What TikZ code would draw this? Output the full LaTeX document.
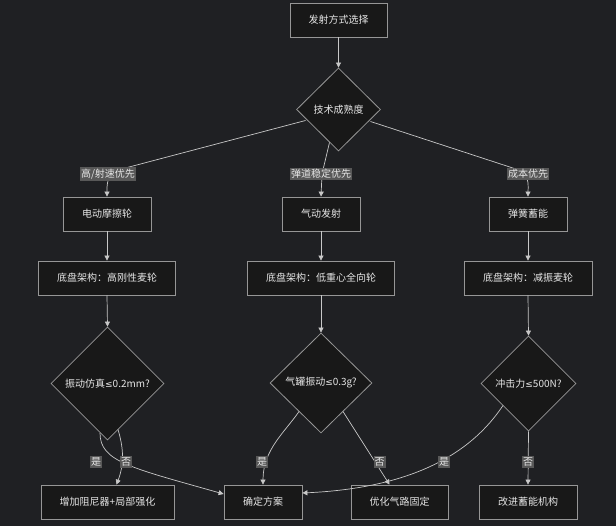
\documentclass[tikz,border=0pt]{standalone}
\usepackage{fontspec}
\setmainfont{Noto Sans CJK SC}
\newfontfamily\symfont{DejaVu Sans}
\usetikzlibrary{shapes.geometric,arrows.meta,calc}
\definecolor{bgc}{RGB}{31,32,35}
\definecolor{boxfill}{RGB}{24,24,24}
\definecolor{boxline}{RGB}{150,150,150}
\definecolor{linec}{RGB}{200,200,200}
\definecolor{labfill}{RGB}{88,88,88}
\definecolor{txt}{RGB}{230,230,230}
\newcommand{\leqsym}{{\symfont\fontsize{9}{11}\selectfont ≤}}
\tikzset{
  stepbox/.style={draw=boxline, fill=boxfill, line width=0.8pt, text=txt, font=\fontsize{10}{12}\selectfont, minimum height=34pt, inner sep=0pt},
  decide/.style={diamond, draw=boxline, fill=boxfill, line width=0.8pt, text=txt, font=\fontsize{10}{12}\selectfont, inner sep=0pt, aspect=1},
  elab/.style={fill=labfill, text=txt, font=\fontsize{10}{12}\selectfont, inner xsep=1pt, inner ysep=1.5pt},
  conn/.style={draw=linec, line width=0.7pt, -{Triangle[length=5pt,width=5pt]}}
}
\begin{document}
\begin{tikzpicture}[x=1pt,y=-1pt]
\fill[bgc] (0,0) rectangle (616,526);
\useasboundingbox (0,0) rectangle (616,526);

\node[stepbox, minimum width=97pt] (t) at (338.5,20) {发射方式选择};
\node[decide, minimum width=84pt, minimum height=83pt] (d1) at (338.5,109.5) {技术成熟度};

\node[stepbox, minimum width=88pt] (b1) at (107,214) {电动摩擦轮};
\node[stepbox, minimum width=78pt] (b2) at (321,214) {气动发射};
\node[stepbox, minimum width=78pt] (b3) at (528,214) {弹簧蓄能};

\node[stepbox, minimum width=137.5pt] (c1) at (107,278) {底盘架构：高刚性麦轮};
\node[stepbox, minimum width=147.5pt] (c2) at (321,278) {底盘架构：低重心全向轮};
\node[stepbox, minimum width=128pt] (c3) at (528,278) {底盘架构：减振麦轮};

\node[decide, minimum width=113pt, minimum height=113pt] (dd1) at (107.5,383.5) {振动仿真\leqsym0.2mm?};
\node[decide, minimum width=102pt, minimum height=100pt] (dd2) at (321,383) {气罐振动\leqsym0.3g?};
\node[decide, minimum width=95pt, minimum height=95pt] (dd3) at (528.5,383.5) {冲击力\leqsym500N?};

\node[stepbox, minimum width=133pt] (a1) at (107.5,502) {增加阻尼器+局部强化};
\node[stepbox, minimum width=78pt] (kd) at (263,502) {确定方案};
\node[stepbox, minimum width=97pt] (o1) at (399.5,502) {优化气路固定};
\node[stepbox, minimum width=98pt] (g1) at (528,502) {改进蓄能机构};

% label positions
\coordinate (p1) at (108,174);
\coordinate (p2) at (321,174);
\coordinate (p3) at (528,174);

% connectors
\draw[conn] (t.south) -- (d1.north);
\draw[conn] ($(d1.center)+(-33,11)$) -- ($(p1)+(6,-3)$) .. controls ($(p1)+(-2,6)$) and ($(b1.north)+(0,-10)$) .. (b1.north);
\draw[conn] ($(d1.center)+(-9,33)$) -- ($(p2)+(1,0)$) -- (b2.north);
\draw[conn] ($(d1.center)+(32,12)$) -- ($(p3)+(-6,-3)$) .. controls ($(p3)+(2,6)$) and ($(b3.north)+(0,-10)$) .. (b3.north);

\draw[conn] (b1.south) -- (c1.north);
\draw[conn] (b2.south) -- (c2.north);
\draw[conn] (b3.south) -- (c3.north);
\draw[conn] (c1.south) -- (dd1.north);
\draw[conn] (c2.south) -- (dd2.north);
\draw[conn] (c3.south) -- (dd3.north);

\draw[conn] ($(dd1.center)+(-7.5,49.5)$) .. controls ($(dd1.center)+(-7.5,78)$) and ($(dd1.center)+(22.5,84)$) .. ($(kd.west)+(0,-8)$);
\draw[conn] ($(dd1.center)+(10.5,46)$) .. controls ($(dd1.center)+(16.5,66)$) and ($(dd1.center)+(16.5,81)$) .. ($(a1.north)+(9,0)$);

\draw[conn] ($(dd2.center)+(-22,28.5)$) .. controls ($(dd2.center)+(-36,49)$) and ($(kd.north)+(0,-35)$) .. (kd.north);
\draw[conn] ($(dd2.center)+(22,28.5)$) -- ($(o1.north)+(-10,0)$);

\draw[conn] ($(dd3.center)+(-25.5,22)$) .. controls ($(dd3.center)+(-58.5,71.5)$) and ($(kd.east)+(108,-14)$) .. ($(kd.east)+(0,-9)$);
\draw[conn] (dd3.south) -- (g1.north);

% edge labels
\node[elab] (l1) at (p1) {高/射速优先};
\node[elab] (l2) at (p2) {弹道稳定优先};
\node[elab] (l3) at (p3) {成本优先};
\node[elab] (y1) at (96,462) {是};
\node[elab] (n1) at (126,462) {否};
\node[elab] (y2) at (262,462) {是};
\node[elab] (n2) at (379.5,462) {否};
\node[elab] (y3) at (444,462) {是};
\node[elab] (n3) at (528,462) {否};
\end{tikzpicture}
\end{document}
